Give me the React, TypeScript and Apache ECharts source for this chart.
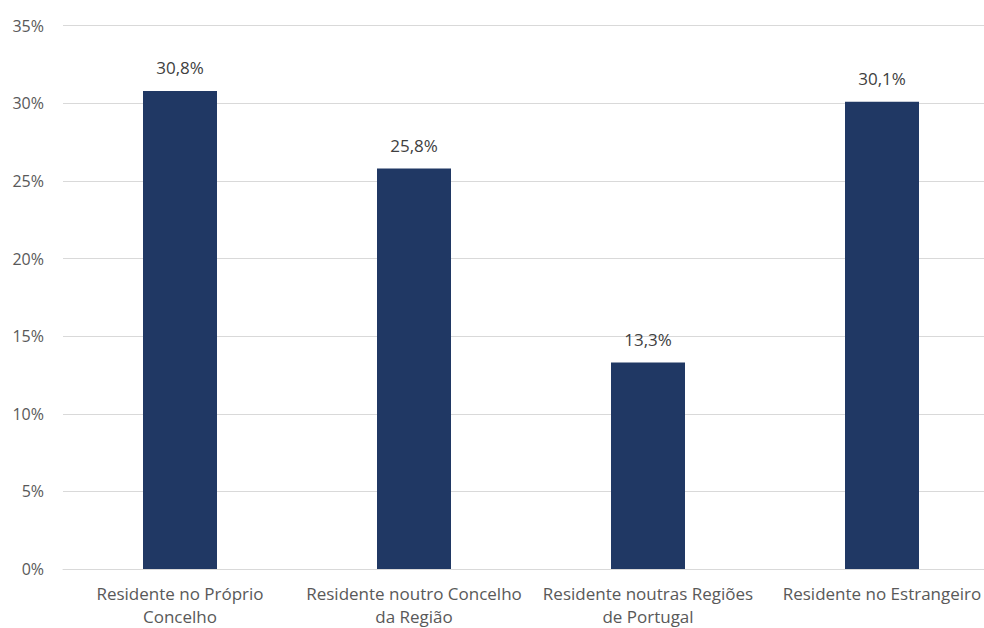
import React, { useEffect, useRef } from "react";
import * as echarts from "echarts";

const categories = [
  "Residente no Próprio\nConcelho",
  "Residente noutro Concelho\nda Região",
  "Residente noutras Regiões\nde Portugal",
  "Residente no Estrangeiro",
];
const values = [30.8, 25.8, 13.3, 30.1];
const yTicks = [0, 5, 10, 15, 20, 25, 30, 35];

const FONT = "'Open Sans', sans-serif";

export default function App() {
  const ref = useRef<HTMLDivElement>(null);
  useEffect(() => {
    document.body.style.margin = "0";
    const chart = echarts.init(ref.current!, undefined, { renderer: "svg" });
    chart.setOption({
      animation: false,
      grid: { left: 63, right: 1, top: 25.7, bottom: 58.7, containLabel: false },
      xAxis: {
        type: "category",
        data: categories,
        axisLine: { show: true, lineStyle: { color: "#d9d9d9", width: 1 } },
        axisTick: { show: false },
        axisLabel: {
          color: "#595959",
          fontFamily: FONT,
          fontSize: 17,
          lineHeight: 23,
          margin: 13,
          interval: 0,
        },
      },
      yAxis: {
        type: "value",
        min: yTicks[0],
        max: yTicks[yTicks.length - 1],
        interval: 5,
        axisLine: { show: false },
        axisTick: { show: false },
        splitLine: { lineStyle: { color: "#d9d9d9", width: 1 } },
        axisLabel: {
          color: "#595959",
          fontFamily: FONT,
          fontSize: 16,
          margin: 19,
          formatter: (v: number) => v + "%",
        },
      },
      series: [
        {
          type: "bar",
          data: values,
          barWidth: 74,
          itemStyle: { color: "#203864" },
          label: {
            show: true,
            position: "top",
            distance: 15,
            color: "#404040",
            fontFamily: FONT,
            fontSize: 17,
            formatter: (p: any) => p.value.toFixed(1).replace(".", ",") + "%",
          },
        },
      ],
    });
    return () => chart.dispose();
  }, []);
  return (
    <div style={{ position: "absolute", left: 0, top: 0, width: 984, height: 628, overflow: "hidden", background: "#fff" }}>
      <div ref={ref} style={{ width: 1000, height: 628 }} />
    </div>
  );
}
